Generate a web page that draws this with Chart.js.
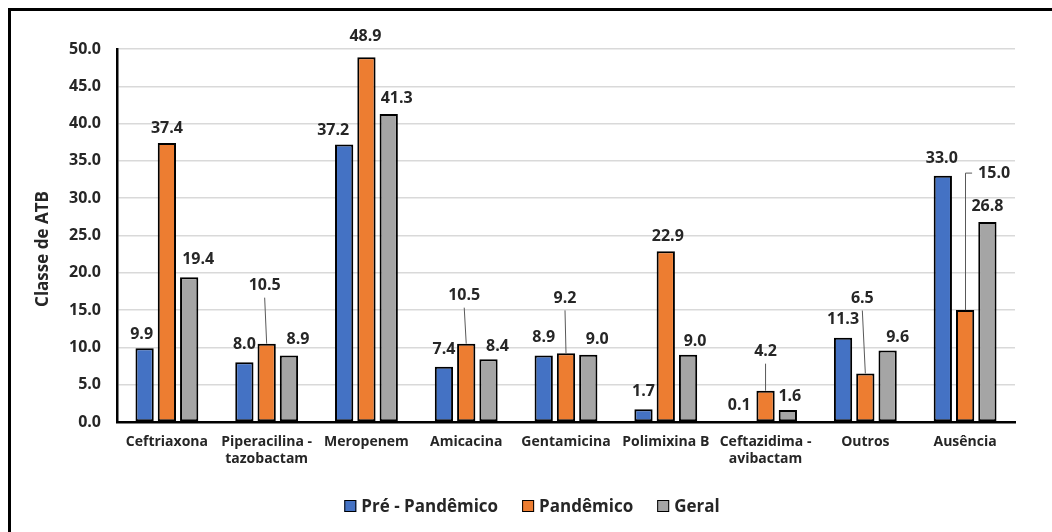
<!DOCTYPE html>
<html>
<head>
<meta charset="utf-8">
<script src="https://cdn.jsdelivr.net/npm/chart.js@4/dist/chart.umd.min.js"></script>
<style>
  html, body { margin: 0; padding: 0; background: #fff; }
  #wrap { position: relative; width: 1052px; height: 532px; }
</style>
</head>
<body>
<div id="wrap"><canvas id="c" width="1052" height="532"></canvas></div>
<script>
// Antibiotic classes (x axis)
const categories = [
  'Ceftriaxona', ['Piperacilina -', 'tazobactam'], 'Meropenem', 'Amicacina',
  'Gentamicina', 'Polimixina B', ['Ceftazidima -', 'avibactam'], 'Outros', 'Ausência'
];
const seriesNames = ['Pré - Pandêmico', 'Pandêmico', 'Geral'];
const prePandemico = [9.9, 8.0, 37.2, 7.4, 8.9, 1.7, 0.1, 11.3, 33.0];
const pandemico    = [37.4, 10.5, 48.9, 10.5, 9.2, 22.9, 4.2, 6.5, 15.0];
const geral        = [19.4, 8.9, 41.3, 8.4, 9.0, 9.0, 1.6, 9.6, 26.8];
const yTicks = [0, 5, 10, 15, 20, 25, 30, 35, 40, 45, 50];
const yTitle = 'Classe de ATB';

const colors = ['#4472C4', '#ED7D31', '#A5A5A5'];
const textColor = '#262626';
const fontFamily = '"Open Sans", "Noto Sans", sans-serif';

// Value label placement: [dx, dy, leader] relative to the top-centre of each bar
const labelPlacement = [
  [[-3,-14],[0,-18],[-11,-14],[0,-17],[0,-18],[0,-18],[-4,-16],[0,-18],[-1,-17]],
  [[0,-15],[-2,-58,1],[-1,-21],[-2,-48,1],[-1,-55,1],[2,-15],[0,-39,1],[-3,-75,1],[29,-137,2]],
  [[9,-18],[9,-16],[8,-15],[9,-13],[9,-15],[7,-13],[2,-14],[10,-13],[0,-16]]
];

const valueLabels = {
  id: 'valueLabels',
  afterDatasetsDraw(chart) {
    const ctx = chart.ctx;
    ctx.save();
    ctx.font = 'bold 16px ' + fontFamily;
    ctx.textAlign = 'center';
    ctx.textBaseline = 'middle';
    chart.data.datasets.forEach((ds, i) => {
      const meta = chart.getDatasetMeta(i);
      meta.data.forEach((bar, j) => {
        const [dx, dy, leader] = labelPlacement[i][j];
        const txt = ds.data[j].toFixed(1);
        const lx = bar.x + dx, ly = bar.y + dy;
        if (leader) {
          ctx.strokeStyle = '#595959';
          ctx.lineWidth = 1;
          ctx.beginPath();
          if (leader === 2) {
            const w = ctx.measureText(txt).width;
            const vx = Math.round(bar.x) + 0.5;
            ctx.moveTo(vx, bar.y);
            ctx.lineTo(vx, ly);
            ctx.lineTo(lx - w / 2 - 6, ly);
          } else {
            ctx.moveTo(lx, ly + 12);
            ctx.lineTo(bar.x, bar.y);
          }
          ctx.stroke();
        }
        ctx.fillStyle = textColor;
        ctx.fillText(txt, lx, ly);
      });
    });
    ctx.restore();
  }
};

// Legend drawn under the plot, centred on the canvas; axis title beside the y axis
const annotations = {
  id: 'annotations',
  afterDraw(chart) {
    const ctx = chart.ctx;
    ctx.save();
    ctx.font = 'bold 17px ' + fontFamily;
    ctx.textBaseline = 'middle';
    const box = 12, gapText = 5, gapItem = 24, y = 506;
    const items = chart.data.datasets.map(ds => ({ label: ds.label, color: ds.backgroundColor, w: ctx.measureText(ds.label).width }));
    const total = items.reduce((s, it) => s + box + gapText + it.w, 0) + gapItem * (items.length - 1);
    let x = 532 - total / 2;
    items.forEach(it => {
      ctx.fillStyle = it.color;
      ctx.fillRect(x, y - box / 2, box, box);
      ctx.strokeStyle = '#000';
      ctx.lineWidth = 1;
      ctx.strokeRect(x + 0.5, y - box / 2 + 0.5, box - 1, box - 1);
      ctx.fillStyle = textColor;
      ctx.fillText(it.label, x + box + gapText, y + 1);
      x += box + gapText + it.w + gapItem;
    });

    ctx.translate(43, 249);
    ctx.rotate(-Math.PI / 2);
    ctx.textAlign = 'center';
    ctx.font = 'bold 17px ' + fontFamily;
    ctx.fillText(yTitle, 0, 0);
    ctx.restore();
  }
};

// White background and frame
const frame = {
  id: 'frame',
  beforeDraw(chart) {
    const ctx = chart.ctx;
    ctx.save();
    ctx.fillStyle = '#fff';
    ctx.fillRect(0, 0, chart.width, chart.height);
    ctx.restore();
  },
  afterDraw(chart) {
    const ctx = chart.ctx;
    ctx.save();
    ctx.strokeStyle = '#000';
    ctx.lineWidth = 3;
    ctx.beginPath();
    ctx.moveTo(9.5, chart.height + 5);
    ctx.lineTo(9.5, 9.5);
    ctx.lineTo(chart.width + 5, 9.5);
    ctx.stroke();
    ctx.restore();
  }
};

const seriesData = [prePandemico, pandemico, geral];

new Chart(document.getElementById('c'), {
  type: 'bar',
  data: {
    labels: categories,
    datasets: seriesData.map((d, i) => ({
      label: seriesNames[i],
      data: d,
      backgroundColor: colors[i],
      borderColor: '#000',
      borderWidth: 2,
      borderSkipped: false,
      categoryPercentage: 0.67,
      barPercentage: 0.82
    }))
  },
  options: {
    responsive: false,
    animation: false,
    devicePixelRatio: 1,
    layout: { padding: { left: 0, right: 37, top: 49, bottom: 60 } },
    plugins: { legend: { display: false }, tooltip: { enabled: false } },
    scales: {
      x: {
        grid: { display: false, drawTicks: false },
        border: { color: '#000', width: 2.5 },
        ticks: {
          color: textColor,
          font: { family: fontFamily, weight: 'bold', size: 14 },
          padding: 12,
          maxRotation: 0,
          autoSkip: false
        },
        afterFit(s) { s.height = 50; }
      },
      y: {
        min: 0,
        max: 50,
        afterBuildTicks(s) { s.ticks = yTicks.map(v => ({ value: v })); },
        grid: { color: '#d9d9d9', lineWidth: 1.5, drawTicks: false },
        border: { color: '#000', width: 2.5 },
        ticks: {
          color: textColor,
          font: { family: fontFamily, weight: 'bold', size: 16 },
          padding: 16,
          callback: v => v.toFixed(1)
        },
        afterFit(s) { s.width = 117; }
      }
    }
  },
  plugins: [frame, valueLabels, annotations]
});
</script>
</body>
</html>
